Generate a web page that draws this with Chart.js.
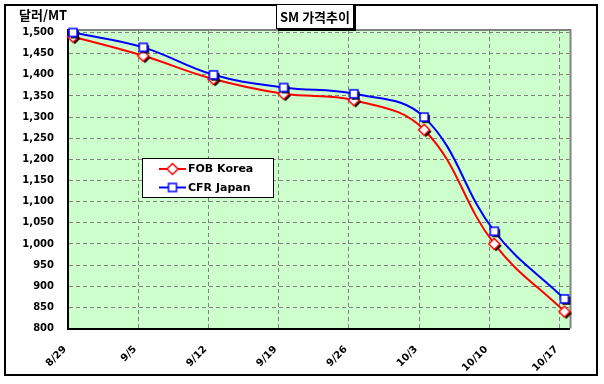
<!DOCTYPE html>
<html><head><meta charset="utf-8">
<script src="https://cdn.jsdelivr.net/npm/chart.js@4/dist/chart.umd.min.js"></script>
<style>html,body{margin:0;padding:0;background:#fff;}#wrap{width:604px;height:384px;position:relative;}</style>
</head><body><div id="wrap"><canvas id="c" width="604" height="384"></canvas></div>
<script>
// ---- data ----
const YEAR = 2008;
const chartTitle = "SM 가격추이";
const yAxisTitle = "달러/MT";
const categories = ["8/29","9/5","9/12","9/19","9/26","10/3","10/10","10/17"];
const fobKorea = [1490, 1445, 1390, 1355, 1340, 1270, 1000, 840];
const cfrJapan = [1500, 1465, 1400, 1370, 1355, 1300, 1030, 870];
const seriesNames = ["FOB Korea", "CFR Japan"];
const xTickLabels = ["8/29","9/5","9/12","9/19","9/26","10/3","10/10","10/17"];
const xAxisStartDate = "8/29";
const xAxisEndDate = "10/18";
const yTickValues = [800,850,900,950,1000,1050,1100,1150,1200,1250,1300,1350,1400,1450,1500];
const yMin = 800, yMax = 1506;

// ---- helpers ----
function dayOf(md){ const [m,d] = md.split('/').map(Number); return Date.UTC(YEAR, m-1, d)/86400000; }
const day0 = dayOf(xAxisStartDate);
const rel = md => dayOf(md) - day0;
const SLOT_CENTER = 0.5; // points sit in the middle of their day slot (date axis)
const tickDays = xTickLabels.map(rel);
const tickLabelByDay = {}; xTickLabels.forEach(l => tickLabelByDay[rel(l)] = l);

function makeMarker(shape, color, shadow){
  const c = document.createElement('canvas'); c.width = c.height = 18;
  const g = c.getContext('2d');
  const path = (dx, dy) => {
    g.beginPath();
    if (shape === 'square') { g.rect(5+dx, 5+dy, 8, 8); }
    else { g.moveTo(9+dx,3.5+dy); g.lineTo(14.5+dx,9+dy); g.lineTo(9+dx,14.5+dy); g.lineTo(3.5+dx,9+dy); g.closePath(); }
  };
  if (shadow) { path(1.8, 1.8); g.fillStyle = '#000'; g.fill(); }
  path(0, 0); g.fillStyle = '#fff'; g.fill();
  g.strokeStyle = color; g.lineWidth = 1.5; g.stroke();
  return c;
}
const redDiamond = makeMarker('diamond', '#ff0000', true);
const blueSquare = makeMarker('square', '#0000ff', true);
const redDiamondL = makeMarker('diamond', '#ff0000', false);
const blueSquareL = makeMarker('square', '#0000ff', false);

const tickFont = { family: '"DejaVu Sans", sans-serif', size: 10, weight: 'bold' };

const decor = {
  id: 'decor',
  beforeDraw(chart){
    const { ctx, chartArea: a } = chart;
    ctx.save();
    ctx.fillStyle = '#fff'; ctx.fillRect(0, 0, chart.width, chart.height);
    ctx.strokeStyle = '#000'; ctx.lineWidth = 2; ctx.strokeRect(5, 5, 592, 370);
    ctx.fillStyle = '#ccffcc'; ctx.fillRect(a.left, a.top, a.right - a.left, a.bottom - a.top);
    ctx.restore();
  },
  beforeDatasetsDraw(chart){
    const { ctx, chartArea: a } = chart;
    ctx.save();
    ctx.strokeStyle = '#808080'; ctx.lineWidth = 2;
    ctx.beginPath(); ctx.moveTo(a.left, a.top); ctx.lineTo(a.right + 1, a.top); ctx.lineTo(a.right + 1, a.bottom); ctx.stroke();
    ctx.restore();
  },
  afterDraw(chart){
    const { ctx } = chart;
    ctx.save();
    // title box
    ctx.fillStyle = '#fff'; ctx.fillRect(276, 4, 78, 25);
    ctx.strokeStyle = '#000'; ctx.lineWidth = 1; ctx.strokeRect(276.5, 4.5, 77, 24);
    ctx.fillStyle = '#000'; ctx.fillRect(354, 6, 2, 25); ctx.fillRect(278, 29, 78, 2);
    ctx.font = 'bold 13px "Noto Sans CJK KR", sans-serif';
    ctx.textAlign = 'center'; ctx.textBaseline = 'middle';
    ctx.fillText(chartTitle, 315, 17);
    // y axis title
    ctx.textAlign = 'left';
    ctx.fillText(yAxisTitle, 19, 15);
    // legend
    const lx = 142, ly = 158, lw = 131, lh = 39;
    ctx.fillStyle = '#fff'; ctx.fillRect(lx, ly, lw, lh);
    ctx.strokeStyle = '#000'; ctx.lineWidth = 1; ctx.strokeRect(lx + 0.5, ly + 0.5, lw, lh);
    const ds = chart.data.datasets;
    const rows = [ {d: ds[0], img: redDiamondL, y: 169}, {d: ds[1], img: blueSquareL, y: 187.5} ];
    ctx.font = 'bold 11px "DejaVu Sans", sans-serif';
    ctx.textBaseline = 'middle'; ctx.textAlign = 'left';
    rows.forEach(r => {
      ctx.strokeStyle = r.d.borderColor; ctx.lineWidth = 2;
      ctx.beginPath(); ctx.moveTo(159, r.y); ctx.lineTo(186, r.y); ctx.stroke();
      ctx.drawImage(r.img, 172.5 - 9, r.y - 9);
      ctx.fillStyle = '#000';
      ctx.fillText(r.d.label, 188, r.y + 0.5);
    });
    ctx.restore();
  }
};

new Chart(document.getElementById('c'), {
  type: 'line',
  data: {
    datasets: [
      { label: seriesNames[0], data: categories.map((c,i) => ({ x: rel(c) + SLOT_CENTER, y: fobKorea[i] })),
        borderColor: '#ff0000', borderWidth: 2, tension: 0.4, pointStyle: redDiamond, pointRadius: 5,
        fill: false, clip: false, order: 1 },
      { label: seriesNames[1], data: categories.map((c,i) => ({ x: rel(c) + SLOT_CENTER, y: cfrJapan[i] })),
        borderColor: '#0000ff', borderWidth: 2, tension: 0.4, pointStyle: blueSquare, pointRadius: 5,
        fill: false, clip: false, order: 0 }
    ]
  },
  options: {
    responsive: false, animation: false, devicePixelRatio: 1,
    layout: { padding: { top: 30, right: 34.5, left: 0, bottom: 0 } },
    plugins: { legend: { display: false }, title: { display: false }, tooltip: { enabled: false } },
    scales: {
      x: {
        type: 'linear', min: 0, max: rel(xAxisEndDate),
        afterBuildTicks: s => { s.ticks = tickDays.map(v => ({ value: v })); },
        afterFit: s => { s.height = 55.5; },
        ticks: { autoSkip: false, maxRotation: 45, minRotation: 45, padding: 15, labelOffset: -3, color: '#000', font: tickFont,
                 callback: v => tickLabelByDay[v] ?? '' },
        grid: { color: '#808080', lineWidth: 1, drawTicks: false },
        border: { display: true, color: '#000', width: 2, dash: [4, 3] }
      },
      y: {
        min: yMin, max: yMax,
        afterBuildTicks: s => { s.ticks = yTickValues.map(v => ({ value: v })); },
        afterFit: s => { s.width = 68; },
        ticks: { padding: 14, color: '#000', font: tickFont, callback: v => v.toLocaleString('en-US') },
        grid: { color: '#808080', lineWidth: 1, drawTicks: false },
        border: { display: true, color: '#000', width: 2, dash: [4, 3] }
      }
    }
  },
  plugins: [decor]
});
</script></body></html>
